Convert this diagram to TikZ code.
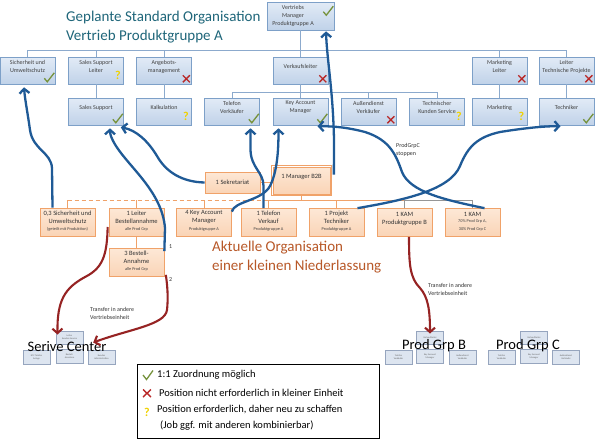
\documentclass[tikz,border=0pt]{standalone}
\usepackage{fontspec}
\setmainfont{Carlito}
\usetikzlibrary{arrows.meta,calc}
\definecolor{ttl}{RGB}{31,102,122}
\definecolor{akt}{RGB}{184,88,40}
\definecolor{ablue}{RGB}{31,90,150}
\definecolor{ared}{RGB}{150,35,35}
\definecolor{bfillA}{RGB}{226,235,246}
\definecolor{bfillB}{RGB}{192,210,233}
\definecolor{bbord}{RGB}{125,160,200}
\definecolor{ofillA}{RGB}{253,232,214}
\definecolor{ofillB}{RGB}{250,212,182}
\definecolor{obord}{RGB}{240,162,105}
\definecolor{pline}{RGB}{140,170,205}
\definecolor{gline}{RGB}{150,150,150}
\definecolor{chkc}{RGB}{118,146,60}
\definecolor{crsc}{RGB}{185,40,40}
\definecolor{qstc}{RGB}{240,210,0}
\definecolor{mfill}{RGB}{216,225,238}
\definecolor{mbord}{RGB}{150,165,190}
\tikzset{
  pbox/.style={rectangle, draw=bbord, line width=0.6pt, top color=bfillA, bottom color=bfillB, minimum width=55pt, minimum height=27pt, inner sep=0},
  ptext/.style={font=\fontsize{6}{8}\selectfont, align=center, text=black!75, inner sep=0},
  obox/.style={rectangle, draw=obord, line width=0.7pt, top color=ofillA, bottom color=ofillB, minimum width=55pt, minimum height=28pt, inner sep=0},
  otext/.style={font=\fontsize{6.5}{8}\selectfont, align=center, text=black!80, inner sep=0},
  osub/.style={font=\fontsize{4.3}{8}\selectfont, align=center, text=black!75, inner sep=0},
  chk/.style={draw=chkc, line width=1.3pt},
  crs/.style={draw=crsc, line width=1.4pt},
  qst/.style={font=\fontsize{12}{12}\selectfont\bfseries, text=qstc, inner sep=0},
  plin/.style={draw=pline, line width=0.8pt},
  olin/.style={draw=obord, line width=0.8pt},
  glin/.style={draw=gline, line width=0.8pt},
  barrow/.style={draw=ablue, line width=2.3pt, -{Straight Barb[length=4.5pt,width=10pt]}},
  rarrow/.style={draw=ared, line width=2.1pt, -{Straight Barb[length=4.5pt,width=10pt]}},
  mbox/.style={rectangle, draw=mbord, line width=0.4pt, fill=mfill, fill opacity=0.85, text opacity=1, minimum width=27pt, minimum height=13.5pt, inner sep=0, font=\fontsize{2.4}{3}\selectfont, align=center, text=black!60},
  small/.style={font=\fontsize{6}{8}\selectfont, align=left, text=black!80, inner sep=0, anchor=west},
  big/.style={font=\fontsize{14.5}{15}\selectfont, text=black, inner sep=0},
  legt/.style={font=\fontsize{10.5}{12}\selectfont, text=black, inner sep=0, anchor=west}
}
\newcommand\icheck[1]{\draw[chk] ($(#1.south east)+(-11,-6)$) -- ++(3,3.5) -- ++(7,-9);}
\newcommand\icross[1]{\draw[crs] ($(#1.south east)+(-9,-9)$) -- ++(7,7) ($(#1.south east)+(-2,-9)$) -- ++(-7,7);}
\newcommand\iquest[1]{\node[qst] (#1-q) at ($(#1.south east)+(-6,-9)$) {?};}
\newcommand\pbx[5]{\node[pbox] (#1) at (#2,#3) {};
  \node[ptext] (#1-t) at ($(#1.center)+(0,-4)$) {#4};
  #5{#1}}
\newcommand\obx[7]{\node[obox] (#1) at (#2,#3) {};
  \node[otext] (#1-t) at ($(#1.center)+(0,#6)$) {#4};
  \node[osub] (#1-s) at ($(#1.center)+(0,#7)$) {#5};}
\begin{document}
\begin{tikzpicture}[x=1pt,y=-1pt]
\path[use as bounding box, fill=white] (0,0) rectangle (596,439);
% ---------- title
\node[font=\fontsize{15}{19}\selectfont, text=ttl, align=left, anchor=west, inner sep=0] (title) at (66,27.5) {Geplante Standard Organisation\\Vertrieb Produktgruppe A};
% ---------- planned organisation
\node[pbox, minimum width=67pt, minimum height=28pt] (pVM) at (300.5,16) {};
\node[ptext] (pVM-t) at (293,15.5) {Vertriebs\\Manager\\Produktgruppe A};
\draw[chk] ($(pVM.north east)+(-11,10)$) -- ++(3,3.5) -- ++(7,-9);
\coordinate (bus1) at (300.5,50);
\coordinate (bus2) at (300.5,92);
\pbx{pSU}{27.5}{70.5}{Sicherheit und\\Umweltschutz}{\icheck}
\pbx{pSL}{96}{70.5}{Sales Support\\Leiter}{\iquest}
\pbx{pAM}{164}{70.5}{Angebots-\\management}{\icross}
\pbx{pVL}{300.5}{70.5}{Verkaufsleiter}{\icross}
\pbx{pML}{499.5}{70.5}{Marketing\\Leiter}{\icross}
\pbx{pLT}{566.5}{70.5}{Leiter\\Technische Projekte}{\icross}
\pbx{pSS}{96}{111.5}{Sales Support}{\icheck}
\pbx{pKA}{164}{111.5}{Kalkulation}{\iquest}
\pbx{pTV}{232}{111.5}{Telefon\\Verkäufer}{\icheck}
\pbx{pKM}{300.5}{111.5}{Key Account\\Manager}{\icheck}
\pbx{pAD}{368.5}{111.5}{Außendienst\\Verkäufer}{\icross}
\pbx{pTK}{437}{111.5}{Technischer\\Kunden Service}{\iquest}
\pbx{pMK}{499.5}{111.5}{Marketing}{\iquest}
\pbx{pTE}{566.5}{111.5}{Techniker}{\icheck}
% planned connectors
\draw[plin] (pVM.south) -- (bus1);
\draw[plin] (pSU.north |- bus1) -- (pLT.north |- bus1);
\foreach \n in {pSU,pSL,pAM,pVL,pML,pLT} {\draw[plin] (\n.north) -- (\n.north |- bus1);}
\draw[plin] (pSL.south) -- (pSS.north);
\draw[plin] (pAM.south) -- (pKA.north);
\draw[plin] (pML.south) -- (pMK.north);
\draw[plin] (pLT.south) -- (pTE.north);
\draw[plin] (pVL.south) -- (bus2);
\draw[plin] (pTV.north |- bus2) -- (pTK.north |- bus2);
\foreach \n in {pTV,pKM,pAD,pTK} {\draw[plin] (\n.north) -- (\n.north |- bus2);}
% ---------- current organisation
\node[obox, minimum height=21pt] (oSek) at (232.5,182.5) {};
\node[otext] (oSek-t) at (oSek.center) {1 Sekretariat};
\node[obox, minimum width=57pt, minimum height=27pt] (oMB) at (301.5,180.5) {};
\draw[obord, line width=1.4pt] ($(oMB.north west)+(-1,-1)$) rectangle ($(oMB.south east)+(1,1)$);
\node[otext] (oMB-t) at ($(oMB.center)+(0,-4)$) {1 Manager B2B};
\obx{oS}{67.5}{222}{0,3 Sicherheit und\\Umweltschutz}{(geteilt mit Produktion)}{-5}{7}
\obx{oLB}{136.5}{222}{1 Leiter\\Bestellannahme}{alle Prod Grp}{-5}{7}
\obx{oKA}{204}{222}{4 Key Account\\Manager}{Produktgruppe A}{-5}{7}
\obx{oTV}{268.5}{222.5}{1 Telefon\\Verkauf}{Produktgruppe A}{-5}{7}
\obx{oPT}{336.5}{222.5}{1 Projekt\\Techniker}{Produktgruppe A}{-5}{7}
\obx{oKB}{404.5}{222.5}{1 KAM\\Produktgruppe B}{}{-4}{7}
\obx{oK70}{472.5}{222.5}{1 KAM}{70\% Prod Grp A,\\30\% Prod Grp C}{-8}{2.5}
\obx{oBA}{136.5}{262.5}{3 Bestell-\\Annahme}{alle Prod Grp}{-5}{7}
\coordinate (bus3) at (301.5,200);
\draw[olin] (oSek.east) -- (oSek.east -| oMB.west);
\draw[olin] (oMB.south) -- (bus3);
\draw[olin, dashed, dash pattern=on 4pt off 3pt] (oS.north |- bus3) -- (oTV.north |- bus3);
\draw[olin] (oTV.north |- bus3) -- (oKB.north |- bus3);
\draw[glin] (oKB.north |- bus3) -- (oK70.north |- bus3);
\foreach \n in {oS,oLB,oKA,oTV,oPT} {\draw[olin] (\n.north) -- (\n.north |- bus3);}
\foreach \n in {oKB,oK70} {\draw[glin] (\n.north) -- (\n.north |- bus3);}
\draw[olin] (oLB.south) -- (oBA.north);
\node[font=\fontsize{15}{19}\selectfont, text=akt, align=left, anchor=west, inner sep=0] (akttxt) at (212,257.5) {Aktuelle Organisation\\einer kleinen Niederlassung};
\node[small] (n1) at (169,247) {1};
\node[small] (n2) at (169,280) {2};
\node[small] (stop) at (396,149.5) {ProdGrpC\\stoppen};
% ---------- mini org charts
\node[mbox] (scT) at (69.5,337.5) {Leiter\\Kunden Service};
\node[mbox] (scM) at (69.5,356) {Bestell-\\Annahme};
\node[mbox] (scL) at (36.5,357) {KCC Telefon\\Anlage};
\node[mbox] (scR) at (101.5,357) {Kunden\\Administration};
\node[big] (sctxt) at (67,347) {Serive Center};
\node[mbox] (bT) at (430,337.5) {Verkaufsleiter};
\node[mbox] (bM) at (430,356) {Key Account\\Manager};
\node[mbox] (bL) at (398.5,357) {Telefon\\Verkäufer};
\node[mbox] (bR) at (462.5,357) {Außendienst\\Verkäufer};
\node[big] (btxt) at (434,346) {Prod Grp B};
\node[mbox] (cT) at (534,337.5) {Verkaufsleiter};
\node[mbox] (cM) at (534,356) {Key Account\\Manager};
\node[mbox] (cL) at (501.5,357) {Telefon\\Verkäufer};
\node[mbox] (cR) at (566,357) {Außendienst\\Verkäufer};
\node[big] (ctxt) at (528,346) {Prod Grp C};
% ---------- blue arrows
\draw[barrow] ([xshift=-15]oS.north) -- (52,168) .. controls (51,152) and (33,150) .. (30,130) .. controls (28,115) and (25,100) .. ([xshift=-3.5,yshift=-3]pSU.south);
\draw[barrow] ([yshift=-3]oBA.north east) -- (165,228) .. controls (162,192) and (130,168) .. (116,146) .. controls (111,138) and (110,134) .. ([xshift=14,yshift=-3]pSS.south);
\draw[barrow] (oSek.west) .. controls (182,182) and (166,172) .. (157,156) .. controls (148,141) and (136,130) .. ([xshift=-3,yshift=-2]pSS.south east);
\draw[barrow] ([xshift=-5]oTV.north) -- (263.5,186) .. controls (263.5,172) and (251,168) .. (250.5,150) -- ([xshift=18.5,yshift=-3]pTV.south);
\draw[barrow] ([yshift=-4]oKA.north east) .. controls (234,201) and (262,201) .. (270,186) .. controls (277,172) and (278.5,152) .. ([xshift=-22,yshift=-3]pKM.south);
\draw[barrow] ([xshift=3.5,yshift=-8]oMB.north east) -- (334,140) .. controls (333,90) and (327,60) .. ([xshift=25.5,yshift=-1]pVM.south);
\draw[barrow] ([xshift=12]oK70.north) .. controls (445,200) and (410,192) .. (402,172) .. controls (396,155) and (390,140) .. (365,132) .. controls (350,128) and (335,126) .. ([xshift=17,yshift=-1]pKM.south);
\draw[barrow] ([xshift=21]oPT.north) .. controls (405,200) and (450,190) .. (460,166) .. controls (468,146) and (478,137) .. (500,132) .. controls (525,128) and (545,126) .. ([xshift=-6,yshift=-1]pTE.south);
% ---------- red arrows
\draw[rarrow] ([xshift=-1,yshift=-5]oLB.west) .. controls (107,255) and (103,268) .. (85,277) .. controls (65,288) and (57,300) .. ([xshift=-12,yshift=-4]scT.north);
\draw[rarrow] ([xshift=1.5,yshift=2]oBA.south east) .. controls (168,290) and (168,300) .. (167,310) .. controls (165,325) and (130,329) .. ([xshift=10,yshift=-5]scT.east);
\draw[rarrow] ([xshift=4.5]oKB.south) .. controls (409,265) and (410,278) .. (420,288) .. controls (428,297) and (430,310) .. ([yshift=-3]bT.north);
\node[small] (tr1) at (90,313) {Transfer in andere\\Vertriebseinheit};
\node[small] (tr2) at (428,289.5) {Transfer in andere\\Vertriebseinheit};
% ---------- legend
\node[draw=black, line width=0.6pt, minimum width=242pt, minimum height=74pt, inner sep=0] (leg) at (258,401) {};
\draw[chk] (143,375) -- (146.5,379.5) -- (153,370.5);
\node[legt] (l1) at (157,375) {1:1 Zuordnung möglich};
\draw[crs] (143,389.5) -- (151,397) (151,389.5) -- (143,397);
\node[legt] (l2) at (159,392.5) {Position nicht erforderlich in kleiner Einheit};
\node[qst] (lq) at (147,412) {?};
\node[legt] (l3) at (157,410) {Position erforderlich, daher neu zu schaffen};
\node[legt] (l4) at (160,426) {(Job ggf. mit anderen kombinierbar)};
\end{tikzpicture}
\end{document}
